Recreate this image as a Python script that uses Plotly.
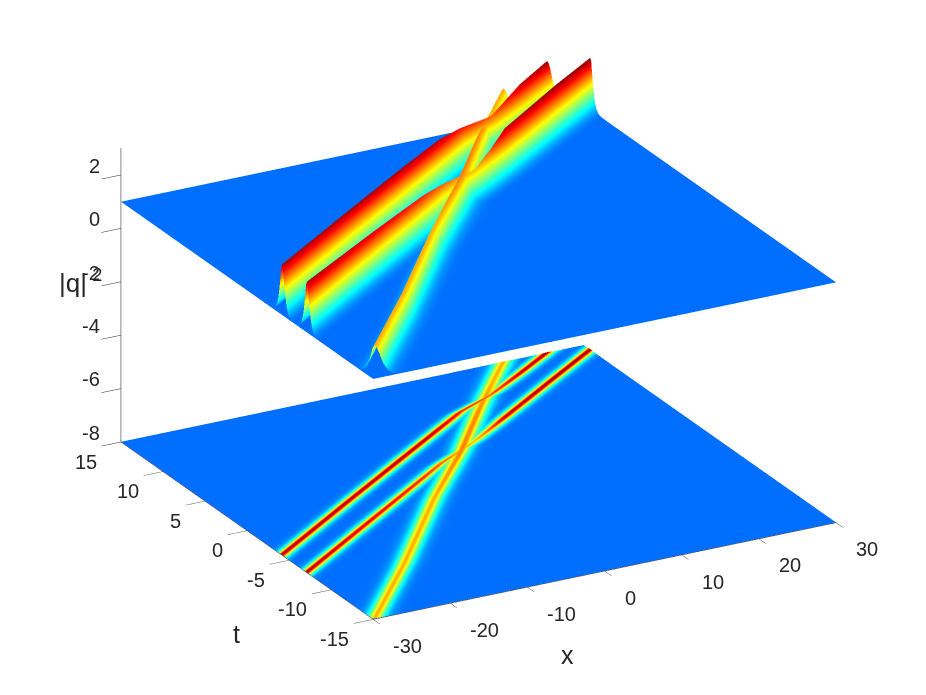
#!/usr/bin/env python3
import numpy as np
import plotly.graph_objects as go

# values
x_ticks = [-30, -20, -10, 0, 10, 20, 30]
t_ticks = [-15, -10, -5, 0, 5, 10, 15]
z_ticks = [-8, -6, -4, -2, 0, 2]
background = 1.0

# crest of each ridge: time, position, height
red1_t = [-8.0, -4.13, 0.96, 5.05, 8.0, 9.6, 11.0, 12.2, 12.99, 15.25, 16.5]
red1_x = [-40.4, -29.87, -15.9, -4.55, 3.65, 8.1, 13.6, 17.2, 19.5, 25.96, 29.3]
red1_h = [2.9, 2.9, 2.9, 2.9, 2.85, 2.65, 2.45, 2.7, 2.85, 2.95, 2.95]

red2_t = [-10.0, -7.05, -1.79, 2.0, 3.4, 5.4, 6.6, 7.69, 11.57, 14.0, 16.0]
red2_x = [-37.9, -29.8, -15.4, -5.0, -1.2, 5.4, 8.8, 11.8, 22.58, 29.4, 35.0]
red2_h = [2.9, 2.9, 2.75, 2.6, 2.45, 2.2, 2.5, 2.85, 2.95, 2.95, 2.95]

yel_t = [-16.0, -15.0, -8.73, -0.9, 4.54, 9.32, 12.5, 15.2, 16.0]
yel_x = [-31.4, -29.8, -19.2, -6.7, 2.74, 10.2, 15.4, 19.9, 21.2]
yel_h = [2.25, 2.25, 2.25, 2.25, 2.38, 2.35, 2.25, 2.25, 2.25]
yel_width = 1.1

# cross section of a ridge: distance from crest, share of the height
profile_d = [-6.0, -4.0, -3.0, -2.5, -2.0, -1.6, -1.3, -1.0, -0.75, -0.5, -0.25, 0.0,
             0.25, 0.5, 0.75, 1.0, 1.3, 1.6, 2.0, 2.5, 3.0, 4.0, 6.0]
profile_f = [0.0, 0.002, 0.015, 0.04, 0.09, 0.18, 0.28, 0.42, 0.58, 0.76, 0.93, 1.0,
             0.93, 0.76, 0.58, 0.42, 0.28, 0.18, 0.09, 0.04, 0.015, 0.002, 0.0]

jet = [[0.0, "rgb(0,110,255)"], [0.194, "rgb(0,255,255)"], [0.516, "rgb(255,255,0)"],
       [0.839, "rgb(255,0,0)"], [1.0, "rgb(128,0,0)"]]
flat = dict(ambient=1, diffuse=0, specular=0, roughness=1, fresnel=0)
floor_z = -7.99
text_color = "#262626"


def patch(xs, ts, zs, colors):
    return go.Surface(x=xs, y=ts, z=zs, surfacecolor=colors, colorscale=jet, cmin=1, cmax=3,
                      showscale=False, lighting=flat, hoverinfo="skip")


fig = go.Figure()

plane_x = np.array([[-30.0, 30.0], [-30.0, 30.0]])
plane_t = np.array([[-15.0, -15.0], [15.0, 15.0]])
plane_c = np.full((2, 2), background)
fig.add_trace(patch(plane_x, plane_t, plane_c, plane_c))
fig.add_trace(patch(plane_x, plane_t, plane_c * 0 + floor_z, plane_c))

for ts, xs, hs, w in [(yel_t, yel_x, yel_h, yel_width), (red2_t, red2_x, red2_h, 1.0),
                      (red1_t, red1_x, red1_h, 1.0)]:
    f = np.array(profile_f)
    mesh_x = np.array([c + w * np.array(profile_d) for c in xs])
    mesh_t = np.array([[t] * len(f) for t in ts])
    mesh_z = np.array([background + (h - background) * f for h in hs])
    fig.add_trace(patch(mesh_x, mesh_t, mesh_z, mesh_z))
    # same ridge flattened on the floor, a hair of lift keeps the highest value in front
    fig.add_trace(patch(mesh_x, mesh_t, floor_z + 0.01 * (mesh_z - background) + 0.002, mesh_z))

axis = dict(showgrid=False, zeroline=False, showbackground=False, showspikes=False,
            showline=True, linecolor="#262626", linewidth=1, ticks="outside", ticklen=14,
            tickcolor="#262626", tickwidth=1, showticklabels=False, title="")


def label(text, px, py, size):
    return dict(text=text, x=(px - 8) / 910, y=1 - (py - 8) / 679, xref="paper", yref="paper",
                xanchor="center", yanchor="middle", showarrow=False,
                font=dict(family="Liberation Sans", size=size, color=text_color))


def tick_label(text, x, t, z, anchor, dx, dy):
    return dict(text=text, x=x, y=t, z=z, showarrow=False, xanchor=anchor, yanchor="middle",
                xshift=dx, yshift=dy, font=dict(family="Liberation Sans", size=20, color=text_color))


tick_labels = [tick_label(str(v), v, -15, -8, "left", 18, -27) for v in x_ticks]
tick_labels += [tick_label(str(v), -30, v, -8, "right", -22, -20) for v in t_ticks]
tick_labels += [tick_label(str(v), -30, 15, v, "right", -19, 9) for v in z_ticks]

fig.update_layout(
    width=910, height=679, margin=dict(l=0, r=0, t=0, b=0),
    paper_bgcolor="white", showlegend=False,
    annotations=[label("x", 567, 655, 25), label("t", 236, 634, 25),
                 label("|q|\u2009<sup>2</sup>", 80, 281, 26)],
    scene=dict(
        domain=dict(x=[0.034, 1.0], y=[0.036, 1.0]),
        xaxis=dict(axis, range=[-30, 30], tickvals=x_ticks, ticklen=22),
        yaxis=dict(axis, range=[-15, 15], tickvals=t_ticks),
        zaxis=dict(axis, range=[-8, 3], tickvals=z_ticks, linecolor="#888888", linewidth=2),
        annotations=tick_labels,
        aspectmode="manual", aspectratio=dict(x=1.61, y=1.61, z=0.971),
        camera=dict(eye=dict(x=-0.442 * 2, y=-0.811 * 2, z=0.383 * 2),
                    center=dict(x=0, y=0, z=0), up=dict(x=0, y=0, z=1),
                    projection=dict(type="orthographic")),
    ),
)

fig.write_html("out.html")
